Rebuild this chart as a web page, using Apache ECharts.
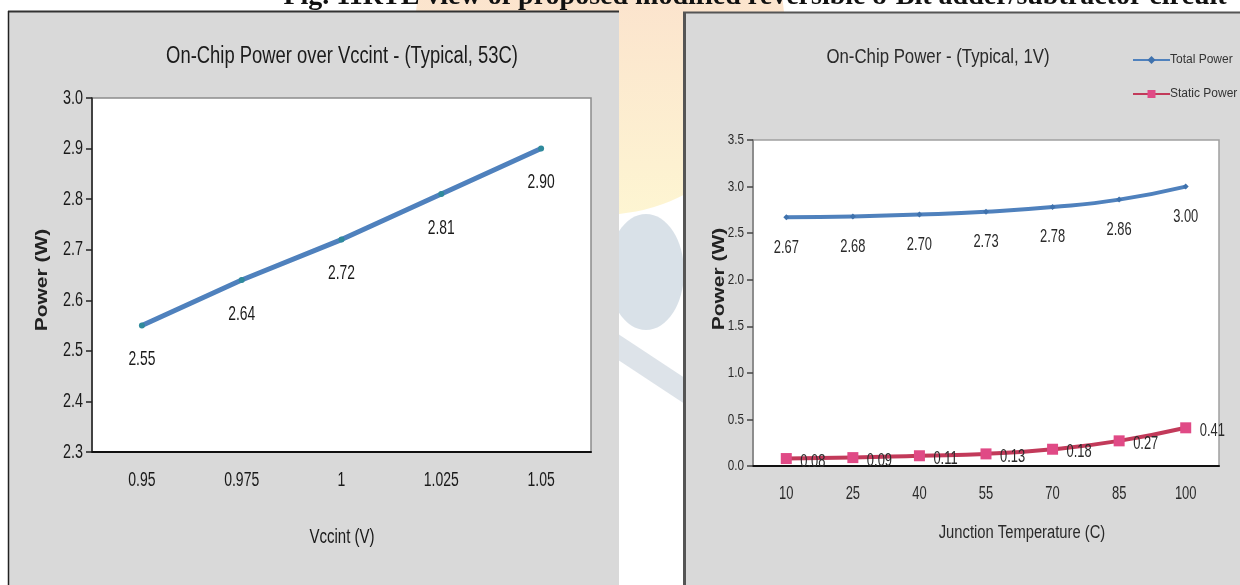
<!DOCTYPE html>
<html>
<head>
<meta charset="utf-8">
<title>On-Chip Power</title>
<script src="https://cdn.jsdelivr.net/npm/echarts@6/dist/echarts.min.js"></script>
<style>
  html, body { margin: 0; padding: 0; background: #ffffff; }
  #chart { width: 1240px; height: 585px; }
</style>
</head>
<body>
<div id="chart"></div>
<script>
// Power vs. core supply voltage
const vccintLabels = ['0.95', '0.975', '1', '1.025', '1.05'];
const vccintPower = [2.55, 2.64, 2.72, 2.81, 2.90];
const vccintTicks = [2.3, 2.4, 2.5, 2.6, 2.7, 2.8, 2.9, 3.0];

// Power vs. junction temperature
const tempLabels = ['10', '25', '40', '55', '70', '85', '100'];
const totalPower = [2.67, 2.68, 2.70, 2.73, 2.78, 2.86, 3.00];
const staticPower = [0.08, 0.09, 0.11, 0.13, 0.18, 0.27, 0.41];
const tempTicks = [0, 0.5, 1.0, 1.5, 2.0, 2.5, 3.0, 3.5];

const SANS = "'Liberation Sans', Arial, sans-serif";
const BLUE = '#4F81BD';
const GL = { left: 92, top: 98, width: 499, height: 354 };
const GR = { left: 753, top: 140, width: 466, height: 326 };

// condensed-looking text: regular sans squeezed horizontally
function narrowText(id, x, y, text, size, sx, opts) {
  opts = opts || {};
  return {
    type: 'text', id: id, x: x, y: y, z: opts.z || 5,
    rotation: opts.rotation || 0,
    scaleX: opts.rotation ? 1 : sx,
    scaleY: opts.rotation ? sx : 1,
    style: {
      text: text,
      font: (opts.weight || 'normal') + ' ' + size + 'px ' + SANS,
      fill: opts.color || '#1a1a1a',
      align: opts.align || 'center',
      verticalAlign: 'middle'
    }
  };
}

const chart = echarts.init(document.getElementById('chart'), null, { renderer: 'canvas' });

const staticGraphics = [
  // faint logo behind the panels
  { type: 'circle', id: 'logoSun', z: -10, shape: { cx: 600, cy: 30, r: 185 },
    style: { fill: new echarts.graphic.LinearGradient(0, 0, 0, 1, [
      { offset: 0, color: 'rgba(248,200,180,0.7)' },
      { offset: 1, color: 'rgba(253,242,195,0.75)' }]) } },
  { type: 'ellipse', id: 'logoBlob', z: -9, shape: { cx: 646, cy: 272, rx: 38, ry: 58 },
    style: { fill: 'rgba(208,217,226,0.8)' } },
  { type: 'polygon', id: 'logoBand', z: -9, shape: { points: [[600, 322], [700, 388], [700, 414], [600, 348]] },
    style: { fill: 'rgba(212,220,228,0.8)' } },
  // caption strip, mostly cropped above the page
  { type: 'text', id: 'caption', z: 20, x: 755, y: 4,
    style: { text: 'Fig. 11RTL view of proposed modified reversible 8-Bit adder/subtractor circuit',
      font: "bold 28px 'Liberation Serif', 'Times New Roman', serif", fill: '#111',
      align: 'center', verticalAlign: 'bottom', padding: [0, 0, -7, 0] } },
  // left panel
  { type: 'rect', id: 'panelL', z: -5, shape: { x: 8, y: 11, width: 611, height: 600 },
    style: { fill: '#d9d9d9' } },
  { type: 'line', id: 'panelLTop', z: -4, shape: { x1: 8, y1: 11.5, x2: 619, y2: 11.5 }, style: { stroke: '#333', lineWidth: 2 } },
  { type: 'line', id: 'panelLSide', z: -4, shape: { x1: 8.5, y1: 11, x2: 8.5, y2: 600 }, style: { stroke: '#222', lineWidth: 1.5 } },
  // right panel
  { type: 'rect', id: 'panelR', z: -5, shape: { x: 683, y: 12, width: 560, height: 600 },
    style: { fill: '#d9d9d9' } },
  { type: 'line', id: 'panelRTop', z: -4, shape: { x1: 683, y1: 12.5, x2: 1240, y2: 12.5 }, style: { stroke: '#555', lineWidth: 2 } },
  { type: 'line', id: 'panelRSide', z: -4, shape: { x1: 684.5, y1: 12, x2: 684.5, y2: 600 }, style: { stroke: '#555', lineWidth: 3 } },
  // titles and axis names
  narrowText('titleL', 342, 57, 'On-Chip Power over Vccint - (Typical, 53C)', 23, 0.8),
  narrowText('titleR', 938, 57, 'On-Chip Power - (Typical, 1V)', 20, 0.84, { color: '#2a2a2a' }),
  narrowText('yNameL', 42, 280, 'Power (W)', 21, 0.8, { rotation: Math.PI / 2, weight: 'bold', color: '#222' }),
  narrowText('yNameR', 719, 279, 'Power (W)', 21, 0.8, { rotation: Math.PI / 2, weight: 'bold', color: '#222' }),
  narrowText('xNameL', 342, 537, 'Vccint (V)', 20, 0.75),
  narrowText('xNameR', 1022, 533, 'Junction Temperature (C)', 18, 0.82, { color: '#2a2a2a' })
];

chart.setOption({
  animation: false,
  backgroundColor: '#ffffff',
  graphic: staticGraphics,
  legend: {
    orient: 'vertical', left: 1132, top: 54, itemGap: 22, padding: 0,
    itemWidth: 37, itemHeight: 10,
    textStyle: { fontFamily: SANS, fontSize: 12, color: '#333', padding: [0, 0, 0, -5] },
    data: ['Total Power', 'Static Power']
  },
  grid: [
    Object.assign({ show: true, backgroundColor: '#ffffff', borderColor: '#8c8c8c', borderWidth: 1.5 }, GL),
    Object.assign({ show: true, backgroundColor: '#ffffff', borderColor: '#a0a0a0', borderWidth: 1.5 }, GR)
  ],
  xAxis: [
    { type: 'category', gridIndex: 0, data: vccintLabels, boundaryGap: true,
      axisLine: { lineStyle: { color: '#111', width: 2 } },
      axisTick: { length: 6, lineStyle: { color: '#111', width: 1.5 } },
      axisLabel: { show: false } },
    { type: 'category', gridIndex: 1, data: tempLabels, boundaryGap: true,
      axisLine: { lineStyle: { color: '#111', width: 2 } },
      axisTick: { length: 6, lineStyle: { color: '#333', width: 1.5 } },
      axisLabel: { show: false } }
  ],
  yAxis: [
    { type: 'value', gridIndex: 0, min: vccintTicks[0], max: vccintTicks[vccintTicks.length - 1], interval: 0.1,
      axisLine: { show: true, lineStyle: { color: '#222', width: 1.5 } },
      axisTick: { show: true, length: 6, lineStyle: { color: '#222', width: 1.5 } },
      splitLine: { show: false }, axisLabel: { show: false } },
    { type: 'value', gridIndex: 1, min: tempTicks[0], max: tempTicks[tempTicks.length - 1], interval: 0.5,
      axisLine: { show: true, lineStyle: { color: '#808080', width: 1.5 } },
      axisTick: { show: true, length: 6, lineStyle: { color: '#444', width: 1.5 } },
      splitLine: { show: false }, axisLabel: { show: false } }
  ],
  series: [
    { name: 'Vccint Power', type: 'line', xAxisIndex: 0, yAxisIndex: 0, data: vccintPower,
      lineStyle: { color: BLUE, width: 5 },
      symbol: 'circle', symbolSize: 6, itemStyle: { color: '#2F8A9C' } },
    { name: 'Total Power', type: 'line', xAxisIndex: 1, yAxisIndex: 1, data: totalPower,
      smooth: true, lineStyle: { color: BLUE, width: 4 },
      symbol: 'diamond', symbolSize: 6, itemStyle: { color: '#3f72ad' } },
    { name: 'Static Power', type: 'line', xAxisIndex: 1, yAxisIndex: 1, data: staticPower,
      smooth: true, lineStyle: { color: '#C23A5A', width: 4 },
      symbol: 'rect', symbolSize: 11, itemStyle: { color: '#E04A86' } }
  ]
});

// tick labels and value labels, placed through the axes' own scales
const px = (g, i, v) => chart.convertToPixel({ gridIndex: g }, [i, v]);
const labels = [];

vccintTicks.forEach((t, k) => {
  const p = px(0, 0, t);
  labels.push(narrowText('ly' + k, GL.left - 9, p[1], t.toFixed(1), 20, 0.72, { align: 'right' }));
});
vccintLabels.forEach((c, i) => {
  const p = px(0, i, vccintTicks[0]);
  labels.push(narrowText('lx' + i, p[0], GL.top + GL.height + 28, c, 20, 0.7));
});
vccintPower.forEach((v, i) => {
  const p = px(0, i, v);
  labels.push(narrowText('lv' + i, p[0], p[1] + 34, v.toFixed(2), 21, 0.66));
});

tempTicks.forEach((t, k) => {
  const p = px(1, 0, t);
  labels.push(narrowText('ry' + k, GR.left - 9, p[1], t.toFixed(1), 15, 0.78, { align: 'right', color: '#2a2a2a' }));
});
tempLabels.forEach((c, i) => {
  const p = px(1, i, tempTicks[0]);
  labels.push(narrowText('rx' + i, p[0], GR.top + GR.height + 28, c, 18, 0.72, { color: '#2a2a2a' }));
});
totalPower.forEach((v, i) => {
  const p = px(1, i, v);
  labels.push(narrowText('rt' + i, p[0], p[1] + 30, v.toFixed(2), 19, 0.68, { color: '#2a2a2a' }));
});
staticPower.forEach((v, i) => {
  const p = px(1, i, v);
  labels.push(narrowText('rs' + i, p[0] + 14, p[1] + 3, v.toFixed(2), 19, 0.68, { align: 'left', color: '#2a2a2a' }));
});

chart.setOption({ graphic: labels });
</script>
</body>
</html>
